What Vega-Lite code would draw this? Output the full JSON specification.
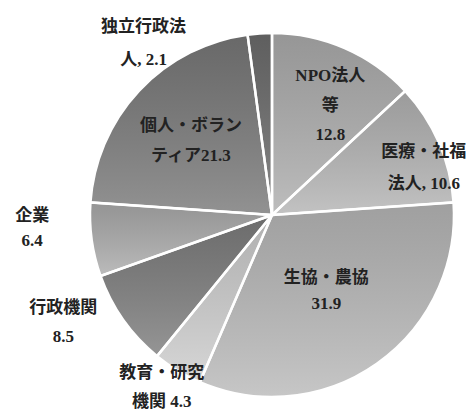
{
  "$schema": "https://vega.github.io/schema/vega-lite/v6.json",
  "width": 364,
  "height": 364,
  "autosize": "none",
  "padding": {"left": 90, "top": 33, "right": 12, "bottom": 17},
  "background": "white",
  "config": {"view": {"stroke": null}},
  "data": {"values": [
    {"cat": "NPO法人等", "v": 12.8, "o": 1, "label": "NPO法人\n等\n12.8"},
    {"cat": "医療・社福法人", "v": 10.6, "o": 2, "label": "医療・社福\n法人, 10.6"},
    {"cat": "生協・農協", "v": 31.9, "o": 3, "label": "生協・農協\n31.9"},
    {"cat": "教育・研究機関", "v": 4.3, "o": 4, "label": "教育・研究\n機関 4.3"},
    {"cat": "行政機関", "v": 8.5, "o": 5, "label": "行政機関\n8.5"},
    {"cat": "企業", "v": 6.4, "o": 6, "label": "企業\n6.4"},
    {"cat": "個人・ボランティア", "v": 21.3, "o": 7, "label": "個人・ボラン\nティア21.3"},
    {"cat": "独立行政法人", "v": 2.1, "o": 8, "label": "独立行政法\n人, 2.1"}
  ]},
  "encoding": {
    "theta": {"field": "v", "type": "quantitative", "stack": true},
    "order": {"field": "o", "type": "quantitative"}
  },
  "layer": [
    {
      "mark": {"type": "arc", "outerRadius": 182},
      "encoding": {
        "color": {"field": "cat", "type": "nominal", "legend": null,
          "scale": {
            "domain": ["NPO法人等", "医療・社福法人", "生協・農協", "教育・研究機関", "行政機関", "企業", "個人・ボランティア", "独立行政法人"],
            "range": ["#afafaf", "#b5b5b5", "#bababa", "#cecece", "#7e7e7e", "#adadad", "#7a7a7a", "#6e6e6e"]
          }
        }
      }
    },
    {
      "mark": {"type": "arc", "outerRadius": 182, "stroke": "white", "strokeWidth": 2.5,
        "fill": {"gradient": "linear", "x1": 0, "y1": 0, "x2": 0, "y2": 1,
          "stops": [{"offset": 0, "color": "rgba(0,0,0,0.14)"}, {"offset": 1, "color": "rgba(255,255,255,0.18)"}]}
      },
      "encoding": {}
    },
    {
      "mark": {"type": "text", "radius": 126, "dx": 8, "dy": -23, "lineBreak": "\n", "lineHeight": 29.5, "fontSize": 17, "fontWeight": "bold", "font": "Liberation Serif, Noto Sans CJK JP", "fill": "#222"},
      "encoding": {"text": {"condition": {"test": "datum.o === 1", "field": "label"}, "value": ""}}
    },
    {
      "mark": {"type": "text", "radius": 160, "dx": 5, "dy": 1, "lineBreak": "\n", "lineHeight": 32, "fontSize": 17, "fontWeight": "bold", "font": "Liberation Serif, Noto Sans CJK JP", "fill": "#222"},
      "encoding": {"text": {"condition": {"test": "datum.o === 2", "field": "label"}, "value": ""}}
    },
    {
      "mark": {"type": "text", "radius": 94, "dy": -14, "lineBreak": "\n", "lineHeight": 26, "fontSize": 17, "fontWeight": "bold", "font": "Liberation Serif, Noto Sans CJK JP", "fill": "#222"},
      "encoding": {"text": {"condition": {"test": "datum.o === 3", "field": "label"}, "value": ""}}
    },
    {
      "mark": {"type": "text", "radius": 203, "dx": -5, "dy": -16, "lineBreak": "\n", "lineHeight": 29, "fontSize": 17, "fontWeight": "bold", "font": "Liberation Serif, Noto Sans CJK JP", "fill": "#222"},
      "encoding": {"text": {"condition": {"test": "datum.o === 4", "field": "label"}, "value": ""}}
    },
    {
      "mark": {"type": "text", "radius": 237, "dx": -15, "dy": -44, "lineBreak": "\n", "lineHeight": 29, "fontSize": 17, "fontWeight": "bold", "font": "Liberation Serif, Noto Sans CJK JP", "fill": "#222"},
      "encoding": {"text": {"condition": {"test": "datum.o === 5", "field": "label"}, "value": ""}}
    },
    {
      "mark": {"type": "text", "radius": 240, "dx": -2, "dy": -32, "lineBreak": "\n", "lineHeight": 25, "fontSize": 17, "fontWeight": "bold", "font": "Liberation Serif, Noto Sans CJK JP", "fill": "#222"},
      "encoding": {"text": {"condition": {"test": "datum.o === 6", "field": "label"}, "value": ""}}
    },
    {
      "mark": {"type": "text", "radius": 111, "dy": -13, "lineBreak": "\n", "lineHeight": 30, "fontSize": 17, "fontWeight": "bold", "font": "Liberation Serif, Noto Sans CJK JP", "fill": "#222"},
      "encoding": {"text": {"condition": {"test": "datum.o === 7", "field": "label"}, "value": ""}}
    },
    {
      "mark": {"type": "text", "radius": 215, "dx": -114, "dy": 27, "lineBreak": "\n", "lineHeight": 33, "fontSize": 17, "fontWeight": "bold", "font": "Liberation Serif, Noto Sans CJK JP", "fill": "#222"},
      "encoding": {"text": {"condition": {"test": "datum.o === 8", "field": "label"}, "value": ""}}
    }
  ]
}
